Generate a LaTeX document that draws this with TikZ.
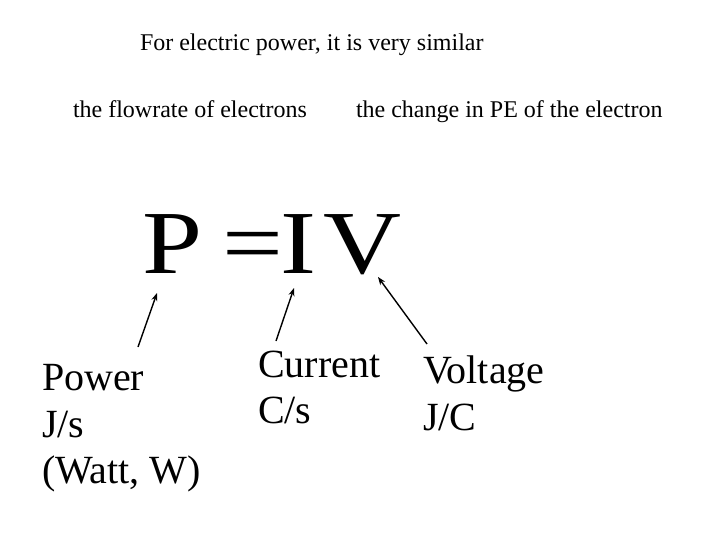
\documentclass[tikz,border=0pt]{standalone}
\usepackage{fontspec}
\setmainfont{Liberation Serif}
\usetikzlibrary{arrows.meta}
\tikzset{
  txt/.style={inner sep=0pt, outer sep=0pt, anchor=base west, font=\fontsize{24}{28}\selectfont},
  big/.style={inner sep=0pt, outer sep=0pt, anchor=base west, font=\fontsize{90}{90}\selectfont, xscale=1.2},
  lbl/.style={inner sep=0pt, outer sep=0pt, anchor=base west, font=\fontsize{40}{46}\selectfont},
  pointer/.style={line width=1.4pt, -{Stealth[length=8pt,width=6pt]}}
}
\begin{document}
\begin{tikzpicture}[x=1pt,y=-1pt]
\useasboundingbox[fill=white] (0,0) rectangle (720,540);
\node[txt] (title) at (140,51) {For electric power, it is very similar};
\node[txt] (flow) at (73,118) {the flowrate of electrons};
\node[txt] (change) at (356,118) {the change in PE of the electron};
\node[big] (P) at (142,273) {P};
\node[big] (eq) at (222,273) {=};
\node[big] (I) at (280,273) {I};
\node[big] (V) at (323,273) {V};
\node[lbl] (power) at (42,390) {Power};
\node[lbl] (powerunit) at (42,437) {J/s};
\node[lbl] (watt) at (42,483) {(Watt, W)};
\node[lbl] (current) at (258,377) {Current};
\node[lbl] (currentunit) at (258,423) {C/s};
\node[lbl] (voltage) at (423,383) {Voltage};
\node[lbl] (voltageunit) at (423,430) {J/C};
\coordinate (a1) at (138,347);
\coordinate (b1) at (157,293);
\coordinate (a2) at (276,341);
\coordinate (b2) at (294,288);
\coordinate (a3) at (427,344);
\coordinate (b3) at (378,277);
\draw[pointer] (a1) -- (b1);
\draw[pointer] (a2) -- (b2);
\draw[pointer] (a3) -- (b3);
\end{tikzpicture}
\end{document}
